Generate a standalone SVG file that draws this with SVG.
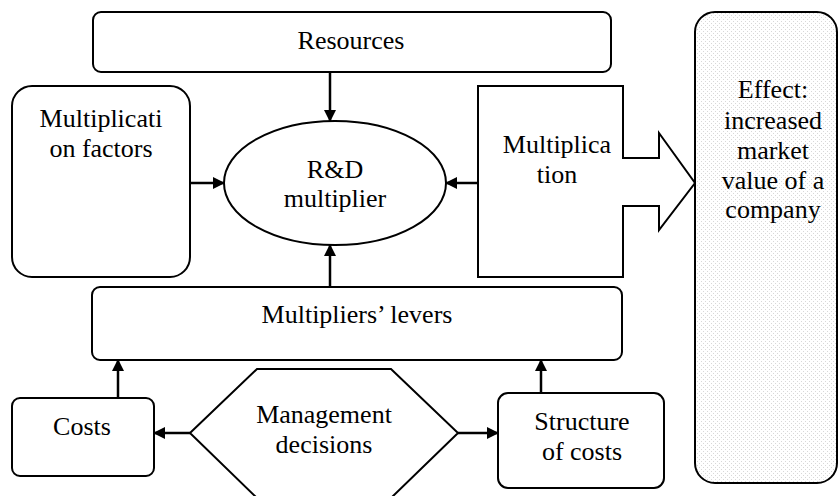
<svg xmlns="http://www.w3.org/2000/svg" width="838" height="496" viewBox="0 0 838 496">
<defs>
<marker id="ah" viewBox="0 0 12 12" refX="11" refY="6" markerWidth="12" markerHeight="12" markerUnits="userSpaceOnUse" orient="auto">
<path d="M0,0 L12,6 L0,12 Z" fill="#000"/>
</marker>
<pattern id="dots" width="4" height="4" patternUnits="userSpaceOnUse">
<rect width="4" height="4" fill="#fff"/>
<rect x="1" y="1" width="1" height="1" fill="#d8d8d8"/>
<rect x="3" y="3" width="1" height="1" fill="#d8d8d8"/>
</pattern>
</defs>
<rect width="838" height="496" fill="#fff"/>
<g id="resources">
<rect x="93" y="12" width="518" height="60" rx="8" fill="#fff" stroke="#000" stroke-width="2"/>
<text x="351" y="49" text-anchor="middle" font-size="26"><tspan style="font-family:'Liberation Serif',serif">Resources</tspan></text>
</g>
<g id="factors">
<rect x="12" y="86" width="178" height="191" rx="20" fill="#fff" stroke="#000" stroke-width="2"/>
<text x="101" y="127" text-anchor="middle" font-size="26"><tspan style="font-family:'Liberation Serif',serif">Multiplicati</tspan></text>
<text x="101" y="157" text-anchor="middle" font-size="26"><tspan style="font-family:'Liberation Serif',serif">on factors</tspan></text>
</g>
<g id="rd">
<ellipse cx="335" cy="183" rx="111" ry="62" fill="#fff" stroke="#000" stroke-width="2"/>
<text x="335" y="178" text-anchor="middle" font-size="26"><tspan style="font-family:'Liberation Serif',serif">R&amp;D</tspan></text>
<text x="335" y="207" text-anchor="middle" font-size="26"><tspan style="font-family:'Liberation Serif',serif">multiplier</tspan></text>
</g>
<g id="multiplication">
<path d="M478,86 L623,86 L623,158 L659,158 L659,133 L695,183 L659,230 L659,206 L623,206 L623,277 L478,277 Z" fill="#fff" stroke="#000" stroke-width="2"/>
<text x="557" y="153" text-anchor="middle" font-size="26"><tspan style="font-family:'Liberation Serif',serif">Multiplica</tspan></text>
<text x="557" y="183" text-anchor="middle" font-size="26"><tspan style="font-family:'Liberation Serif',serif">tion</tspan></text>
</g>
<g id="effect">
<rect x="695" y="12" width="142" height="471" rx="20" fill="url(#dots)" stroke="#000" stroke-width="2"/>
<text x="773" y="98" text-anchor="middle" font-size="26"><tspan style="font-family:'Liberation Serif',serif">Effect:</tspan></text>
<text x="773" y="129" text-anchor="middle" font-size="26"><tspan style="font-family:'Liberation Serif',serif">increased</tspan></text>
<text x="773" y="159" text-anchor="middle" font-size="26"><tspan style="font-family:'Liberation Serif',serif">market</tspan></text>
<text x="773" y="189" text-anchor="middle" font-size="26"><tspan style="font-family:'Liberation Serif',serif">value of a</tspan></text>
<text x="773" y="218" text-anchor="middle" font-size="26"><tspan style="font-family:'Liberation Serif',serif">company</tspan></text>
</g>
<g id="levers">
<rect x="92" y="287" width="530" height="73" rx="8" fill="#fff" stroke="#000" stroke-width="2"/>
<text x="357" y="323" text-anchor="middle" font-size="26"><tspan style="font-family:'Liberation Serif',serif">Multipliers&#8217; levers</tspan></text>
</g>
<g id="costs">
<rect x="12" y="398" width="142" height="78" rx="8" fill="#fff" stroke="#000" stroke-width="2"/>
<text x="82" y="435" text-anchor="middle" font-size="26"><tspan style="font-family:'Liberation Serif',serif">Costs</tspan></text>
</g>
<g id="management">
<path d="M190,433 L257,369 L391,369 L458,433 L391,498 L257,498 Z" fill="#fff" stroke="#000" stroke-width="2"/>
<text x="324" y="423" text-anchor="middle" font-size="26"><tspan style="font-family:'Liberation Serif',serif">Management</tspan></text>
<text x="324" y="453" text-anchor="middle" font-size="26"><tspan style="font-family:'Liberation Serif',serif">decisions</tspan></text>
</g>
<g id="structure">
<rect x="498" y="393" width="166" height="95" rx="10" fill="#fff" stroke="#000" stroke-width="2"/>
<text x="582" y="430" text-anchor="middle" font-size="26"><tspan style="font-family:'Liberation Serif',serif">Structure</tspan></text>
<text x="582" y="460" text-anchor="middle" font-size="26"><tspan style="font-family:'Liberation Serif',serif">of costs</tspan></text>
</g>
<g id="connectors" stroke="#000" stroke-width="2.5" fill="none" marker-end="url(#ah)">
<line x1="330" y1="72" x2="330" y2="121"/>
<line x1="190" y1="183" x2="224" y2="183"/>
<line x1="478" y1="183" x2="446" y2="183"/>
<line x1="330" y1="287" x2="330" y2="245"/>
<line x1="118" y1="398" x2="118" y2="360"/>
<line x1="541" y1="393" x2="541" y2="360"/>
<line x1="190" y1="433" x2="154" y2="433"/>
<line x1="458" y1="433" x2="498" y2="433"/>
</g>
</svg>
